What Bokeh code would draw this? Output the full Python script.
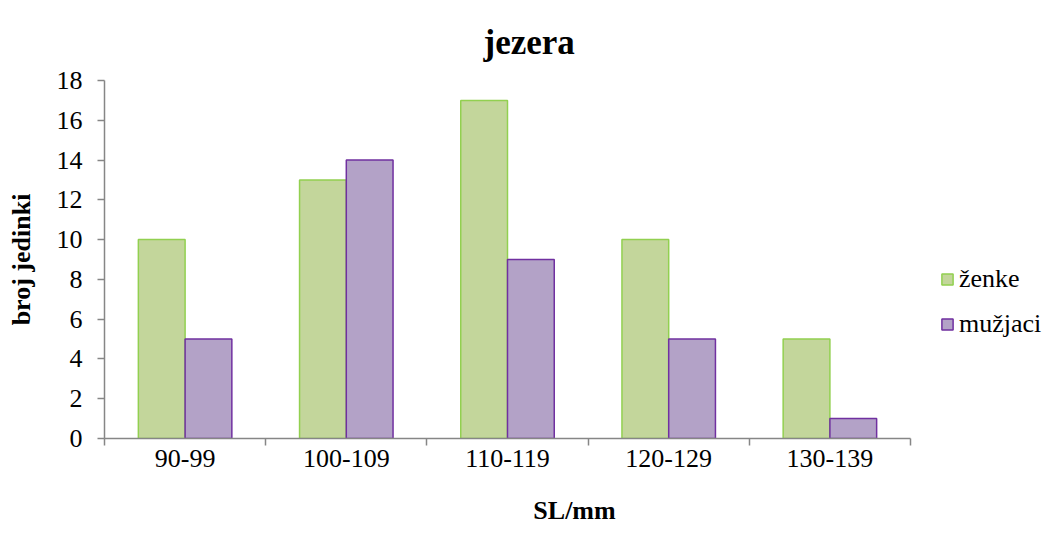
from bokeh.plotting import figure
from bokeh.models import ColumnDataSource, FixedTicker, Range1d, Legend, LegendItem
from bokeh.embed import file_html
from bokeh.resources import INLINE
import numpy as np

categories = ["90-99", "100-109", "110-119", "120-129", "130-139"]
zenke = [10, 13, 17, 10, 5]
muzjaci = [5, 14, 9, 5, 1]
y_ticks = [0, 2, 4, 6, 8, 10, 12, 14, 16, 18]

FONT = "'Liberation Serif', 'Times New Roman', serif"
W, H = 1044, 527
LEFT, TOP, BOTTOM_Y = 104, 80, 441
DATA_RIGHT = 910
n = len(categories)
x_end = n * (W - LEFT) / (DATA_RIGHT - LEFT)

idx = np.arange(n)
src = ColumnDataSource(dict(
    xz=idx + 0.5 - 0.145, xm=idx + 0.5 + 0.145,
    z=zenke, m=muzjaci, cat=categories))

p = figure(width=W, height=H, output_backend="svg", toolbar_location=None,
           x_range=Range1d(0, x_end), y_range=Range1d(0, 18),
           min_border_left=LEFT, min_border_right=0, min_border_top=TOP,
           min_border_bottom=H - BOTTOM_Y)

rz = p.vbar(x="xz", top="z", width=0.29, source=src, fill_color="#C3D69B",
            line_color="#92D050", line_width=1.5)
rm = p.vbar(x="xm", top="m", width=0.29, source=src, fill_color="#B3A2C7",
            line_color="#7030A0", line_width=1.5)

p.title.text = "jezera"
p.title.align = "left"
p.title.offset = 379
p.title.text_font = FONT
p.title.text_font_size = "35px"
p.title.text_font_style = "bold"
p.title.text_color = "black"
p.title.standoff = 37

p.xgrid.visible = False
p.ygrid.visible = False
p.outline_line_color = None

xa = p.xaxis[0]
xa.bounds = (0, n)
xa.ticker = FixedTicker(ticks=list(idx + 0.5), minor_ticks=list(range(n + 1)))
xa.major_label_overrides = {float(i + 0.5): c for i, c in enumerate(categories)}
xa.major_tick_out = 0
xa.major_tick_in = 0
xa.minor_tick_out = 7
xa.minor_tick_in = 0
xa.minor_tick_line_color = "#868686"
xa.minor_tick_line_width = 1.5
xa.axis_line_color = "#868686"
xa.axis_line_width = 1.5
xa.major_label_text_font = FONT
xa.major_label_text_font_size = "26px"
xa.major_label_text_color = "black"
xa.major_label_standoff = 4
xa.axis_label = "SL/mm"
xa.axis_label_text_font = FONT
xa.axis_label_text_font_size = "26px"
xa.axis_label_text_font_style = "bold"
xa.axis_label_text_color = "black"
xa.axis_label_standoff = 26

ya = p.yaxis[0]
ya.ticker = FixedTicker(ticks=y_ticks)
ya.minor_tick_line_color = None
ya.major_tick_out = 7
ya.major_tick_in = 0
ya.major_tick_line_color = "#868686"
ya.major_tick_line_width = 1.5
ya.axis_line_color = "#868686"
ya.axis_line_width = 1.5
ya.major_label_text_font = FONT
ya.major_label_text_font_size = "26px"
ya.major_label_text_color = "black"
ya.major_label_standoff = 15
ya.axis_label = "broj jedinki"
ya.axis_label_text_font = FONT
ya.axis_label_text_font_size = "26px"
ya.axis_label_text_font_style = "bold"
ya.axis_label_text_color = "black"
ya.axis_label_standoff = 18

legend = Legend(items=[LegendItem(label="ženke", renderers=[rz]),
                       LegendItem(label="mužjaci", renderers=[rm])],
                location=(836, 99), border_line_color=None, background_fill_alpha=0,
                label_text_font=FONT, label_text_font_size="26px", label_text_color="black",
                glyph_width=14, glyph_height=14, label_height=30, spacing=15,
                label_standoff=5, padding=0, margin=0)
p.add_layout(legend, "center")

open("out.html", "w").write(file_html(p, INLINE))
